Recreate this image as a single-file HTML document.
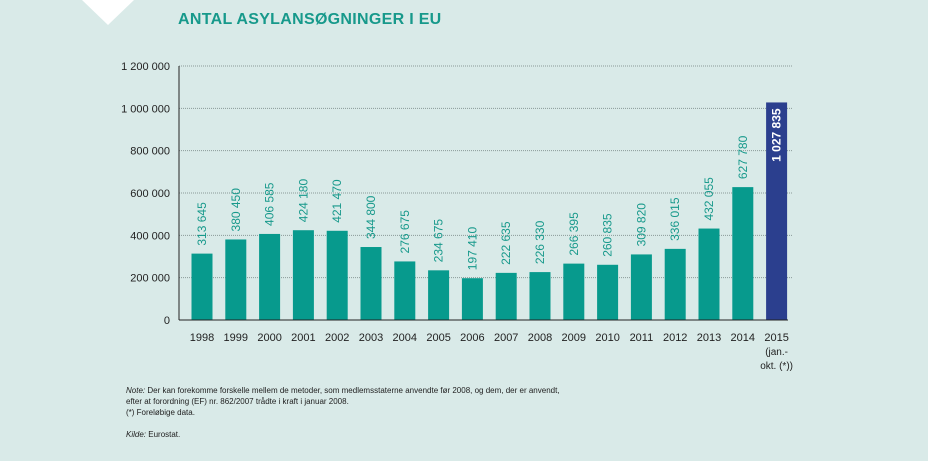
<!DOCTYPE html>
<html><head><meta charset="utf-8"><style>
body{margin:0;width:928px;height:461px;background:#d9eae8;font-family:"Liberation Sans",sans-serif;overflow:hidden;position:relative}
.note{position:absolute;left:126px;font-size:8px;color:#222}
</style></head><body>
<svg width="928" height="461" style="position:absolute;left:0;top:0">
<polygon points="82,0 134,0 108,25" fill="#ffffff"/>
<g id="chart"></g>
</svg>
<div style="position:absolute;left:178px;top:11px;font-size:16px;font-weight:bold;color:#17998b;letter-spacing:0.3px">ANTAL ASYLANSØGNINGER I EU</div>
<div class="note" style="top:385px;line-height:11px"><i>Note:</i> Der kan forekomme forskelle mellem de metoder, som medlemsstaterne anvendte før 2008, og dem, der er anvendt,<br>efter at forordning (EF) nr. 862/2007 trådte i kraft i januar 2008.</div>
<div class="note" style="top:408px">(*) Foreløbige data.</div>
<div class="note" style="top:430px"><i>Kilde:</i> Eurostat.</div>
<script>
const categories=["1998","1999","2000","2001","2002","2003","2004","2005","2006","2007","2008","2009","2010","2011","2012","2013","2014","2015"];
const values=[313645,380450,406585,424180,421470,344800,276675,234675,197410,222635,226330,266395,260835,309820,336015,432055,627780,1027835];
const valueLabels=["313 645","380 450","406 585","424 180","421 470","344 800","276 675","234 675","197 410","222 635","226 330","266 395","260 835","309 820","336 015","432 055","627 780","1 027 835"];
const yTicks=[0,200000,400000,600000,800000,1000000,1200000];
const yTickLabels=["0","200 000","400 000","600 000","800 000","1 000 000","1 200 000"];
const NS="http://www.w3.org/2000/svg";
const g=document.getElementById('chart');
const x0=179,x1=792,yBase=320,yTop=66,maxV=1200000;
const y=v=>yBase-v/maxV*(yBase-yTop);
const step=33.8,first=202;
const xc=i=>first+i*step;
function mk(t,a,txt){const e=document.createElementNS(NS,t);for(const k in a)e.setAttribute(k,a[k]);if(txt!==undefined)e.textContent=txt;g.appendChild(e);return e;}
yTicks.forEach((v,i)=>{
 if(v>0){const l=mk('line',{x1:x0,x2:x1,y1:y(v),y2:y(v),stroke:'#8a9a98','stroke-width':1,'stroke-dasharray':'1,1'});
 
 }
 const t=mk('text',{x:170,y:y(v)+4,'text-anchor':'end','font-size':11,fill:'#222'},yTickLabels[i]);
 
 
});
values.forEach((v,i)=>{
 const last=i===values.length-1;
 const r=mk('rect',{x:xc(i)-10.5,y:y(v),width:21,height:yBase-y(v),fill:last?'#2b3f8e':'#079a8d'});
 
 
 const tx=xc(i)+4,ty=last?y(v)+6:y(v)-8;
 const t=mk('text',{x:tx,y:ty,transform:`rotate(-90 ${tx} ${ty})`,'text-anchor':last?'end':'start','font-size':12,fill:last?'#fff':'#17998b','font-weight':last?'bold':'normal'},valueLabels[i]);
 
 
 const c=mk('text',{x:xc(i),y:341,'text-anchor':'middle','font-size':11,fill:'#222'},categories[i]);
 
 
});
const n=values.length-1;
const a1=mk('text',{x:xc(n),y:355,'text-anchor':'middle','font-size':10,fill:'#222'},'(jan.-');


const a2=mk('text',{x:xc(n),y:369,'text-anchor':'middle','font-size':10,fill:'#222'},'okt. (*))');


const ax=mk('line',{x1:x0,x2:x0,y1:yTop,y2:yBase,stroke:'#222','stroke-width':1});


const bx=mk('line',{x1:x0,x2:x1-4,y1:yBase,y2:yBase,stroke:'#222','stroke-width':1});


</script>
</body></html>
